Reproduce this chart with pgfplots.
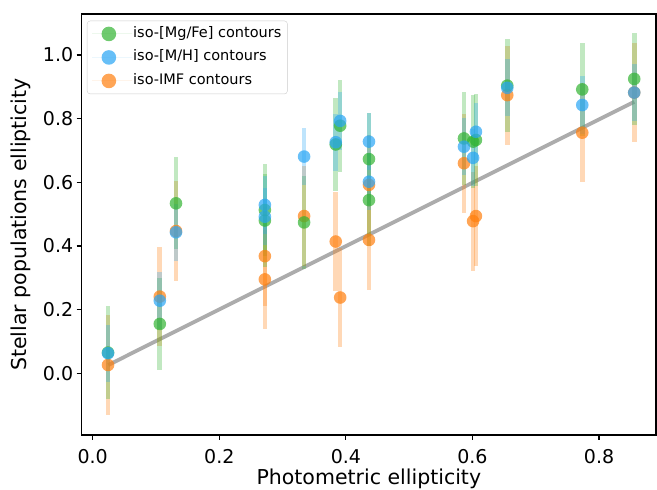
\documentclass[border=0pt]{standalone}
\usepackage{fontspec}
\setmainfont{DejaVu Sans}
\usepackage{pgfplots}
\usepackage{pgfplotstable}
\pgfplotsset{compat=1.18}
\usetikzlibrary{calc}
\definecolor{mgreen}{RGB}{50,180,50}
\definecolor{mblue}{RGB}{40,165,245}
\definecolor{morange}{RGB}{255,127,14}
\definecolor{lgray}{RGB}{172,172,172}

\pgfplotstableread{
x y e
0.0242 0.065 0.145
0.106 0.155 0.145
0.1316 0.534 0.145
0.272 0.513 0.145
0.272 0.480 0.145
0.334 0.474 0.145
0.384 0.719 0.145
0.391 0.778 0.145
0.4365 0.673 0.145
0.4365 0.544 0.145
0.5866 0.738 0.145
0.601 0.728 0.145
0.6055 0.733 0.145
0.655 0.904 0.145
0.7735 0.892 0.145
0.8556 0.925 0.145
}\mgfe

\pgfplotstableread{
x y e
0.0242 0.063 0.09
0.106 0.228 0.09
0.1316 0.443 0.09
0.272 0.529 0.09
0.272 0.492 0.09
0.334 0.681 0.09
0.384 0.726 0.09
0.391 0.793 0.09
0.4365 0.728 0.09
0.4365 0.602 0.09
0.5866 0.712 0.09
0.601 0.677 0.09
0.6055 0.759 0.09
0.655 0.897 0.09
0.7735 0.843 0.09
0.8556 0.882 0.09
}\mh

\pgfplotstableread{
x y e
0.0242 0.026 0.156
0.106 0.241 0.156
0.1316 0.447 0.156
0.272 0.368 0.156
0.272 0.295 0.156
0.334 0.494 0.156
0.384 0.414 0.156
0.391 0.238 0.156
0.4365 0.592 0.156
0.4365 0.419 0.156
0.5866 0.660 0.156
0.601 0.478 0.156
0.6055 0.494 0.156
0.655 0.874 0.156
0.7735 0.756 0.156
0.8556 0.882 0.156
}\imf

\begin{document}
\begin{tikzpicture}
\begin{axis}[
  scale only axis, width=574.3pt, height=421pt,
  xmin=-0.0174, xmax=0.890, ymin=-0.194, ymax=1.129,
  axis line style={line width=1.4pt},
  tick pos=left, tick align=outside,
  major tick length=5pt,
  every tick/.style={black, line width=1.2pt},
  xtick={0,0.2,0.4,0.6,0.8},
  xticklabels={0.0,0.2,0.4,0.6,0.8},
  ytick={0,0.2,0.4,0.6,0.8,1.0},
  yticklabels={0.0,0.2,0.4,0.6,0.8,1.0},
  ticklabel style={font=\fontsize{19}{22}\selectfont},
  xticklabel style={yshift=-6pt},
  xlabel={Photometric ellipticity},
  ylabel={Stellar populations ellipticity},
  label style={font=\fontsize{20.5}{24}\selectfont},
  xlabel style={at={(axis description cs:0.5,0)}, anchor=base, yshift=-49.5pt},
  ylabel style={at={(axis description cs:0,0.5)}, anchor=base, yshift=54.7pt},
  legend cell align=left,
  legend image code/.code={\path (-16.7pt,0pt) -- (23.3pt,0pt); \fill (0pt,0pt) circle (7.3pt);},
  legend style={at={(0.0092,0.984)}, anchor=north west,
    draw=black!20, rounded corners=3pt, fill=white, fill opacity=0.8, text opacity=1,
    font=\fontsize{14.5}{17}\selectfont,
    inner xsep=5pt, inner ysep=5pt, row sep=7.5pt,
    nodes={inner sep=1pt, text height=10.5pt, text depth=3.5pt}},
]
\addlegendimage{draw=none, fill=mgreen, fill opacity=0.7}
\addlegendentry{iso-[Mg/Fe] contours}
\addlegendimage{draw=none, fill=mblue, fill opacity=0.7}
\addlegendentry{iso-[M/H] contours}
\addlegendimage{draw=none, fill=morange, fill opacity=0.7}
\addlegendentry{iso-IMF contours}

\addplot[forget plot, no marks, color=lgray, line width=3.8pt] coordinates {(0.0246,0.026) (0.8556,0.853)};

\addplot[forget plot, draw=none, mark=none, error bars/.cd, y dir=both, y explicit, error mark=none,
  error bar style={line width=4.6pt, color=morange, opacity=0.3}] table[x=x, y=y, y error=e]{\imf};
\addplot[forget plot, draw=none, mark=none, error bars/.cd, y dir=both, y explicit, error mark=none,
  error bar style={line width=4.6pt, color=mgreen, opacity=0.3}] table[x=x, y=y, y error=e]{\mgfe};
\addplot[forget plot, draw=none, mark=none, error bars/.cd, y dir=both, y explicit, error mark=none,
  error bar style={line width=4.6pt, color=mblue, opacity=0.3}] table[x=x, y=y, y error=e]{\mh};

\addplot[forget plot, only marks, color=morange, mark=*, mark size=6.3pt, mark options={draw opacity=0, fill=morange, fill opacity=0.7}] table[x=x, y=y]{\imf};
\addplot[forget plot, only marks, color=mgreen, mark=*, mark size=6.3pt, mark options={draw opacity=0, fill=mgreen, fill opacity=0.7}] table[x=x, y=y]{\mgfe};
\addplot[forget plot, only marks, color=mblue, mark=*, mark size=6.3pt, mark options={draw opacity=0, fill=mblue, fill opacity=0.7}] table[x=x, y=y]{\mh};
\end{axis}
\pgfresetboundingbox
\useasboundingbox ($(current axis.south west)+(-81.7pt,-55pt)$) rectangle ($(current axis.south west)+(575.3pt,435pt)$);
\end{tikzpicture}
\end{document}
